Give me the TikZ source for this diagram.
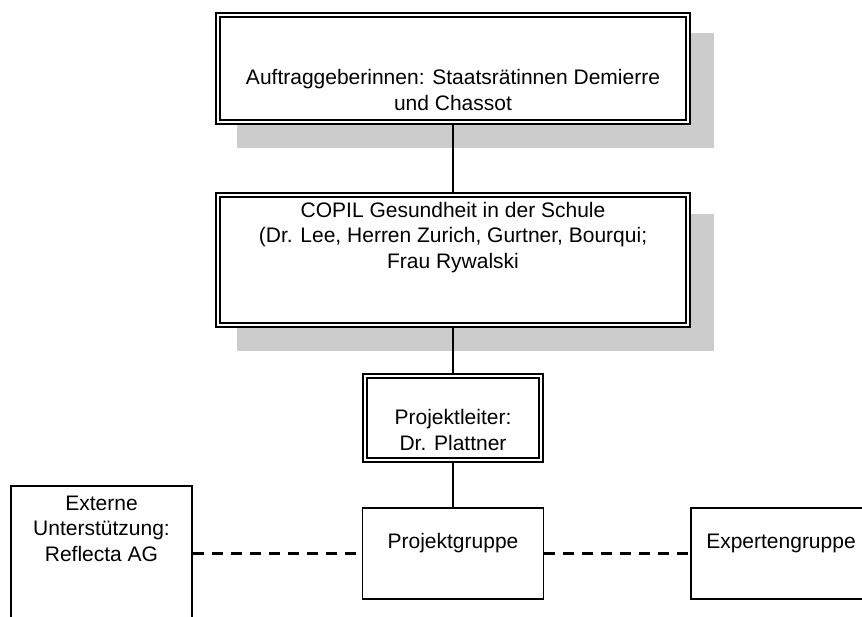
\documentclass[tikz,border=0pt]{standalone}
\usepackage{fontspec}
\setmainfont{Liberation Sans}
\begin{document}
\begin{tikzpicture}[x=1pt,y=-1pt,
  dbox/.style={draw=black, line width=1.5pt, double=white, double distance=2.4pt, fill=white, inner sep=0pt},
  sbox/.style={draw=black, line width=1.6pt, fill=white, inner sep=0pt},
  shade/.style={fill=black!20, draw=none},
  txt/.style={align=center, inner sep=0pt, anchor=base, font=\fontsize{21}{25.5}\selectfont},
  conn/.style={draw=black, line width=1.8pt},
  dconn/.style={draw=black, line width=2.1pt, dash pattern=on 11pt off 8pt}]
\useasboundingbox (0,0) rectangle (862,616);
\clip (0,0) rectangle (862,616);
% shadows
\fill[shade] (237,33) rectangle (714,148);
\fill[shade] (237,214) rectangle (714,351);
% boxes
\node[dbox, minimum width=470pt, minimum height=107pt] (top) at (453,68.5) {};
\node[dbox, minimum width=470pt, minimum height=130pt] (copil) at (453,260) {};
\node[dbox, minimum width=176pt, minimum height=84pt] (pl) at (453,418) {};
\node[sbox, minimum width=181pt, minimum height=91pt] (pg) at (453,553.5) {};
\node[sbox, minimum width=181pt, minimum height=135pt] (ext) at (101.5,553.5) {};
\node[sbox, minimum width=180pt, minimum height=91pt] (exp) at (781,553.5) {};
% connectors
\draw[conn] (top.south) -- (copil.north);
\draw[conn] (copil.south) -- (pl.north);
\draw[conn] (pl.south) -- (pg.north);
\draw[dconn] (ext.east) -- (pg.west);
\draw[dconn] (pg.east) -- (exp.west);
% texts (anchored at the baseline of the last line)
\node[txt] (ttop) at (453,110) {Auftraggeberinnen: Staatsrätinnen Demierre\\und Chassot};
\node[txt] (tcopil) at (453,268) {COPIL Gesundheit in der Schule\\(Dr. Lee, Herren Zurich, Gurtner, Bourqui;\\Frau Rywalski};
\node[txt] (tpl) at (453,450) {Projektleiter:\\Dr. Plattner};
\node[txt] (tpg) at (453,548) {Projektgruppe};
\node[txt] (text) at (101.5,561) {Externe\\Unterstützung:\\Reflecta AG};
\node[txt] (texp) at (781,548) {Expertengruppe};
\end{tikzpicture}
\end{document}
